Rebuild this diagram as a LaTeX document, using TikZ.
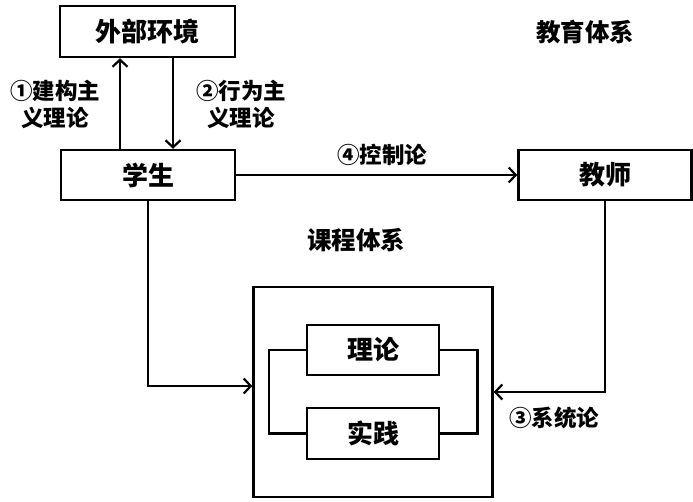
\documentclass[tikz,border=0pt]{standalone}
\usepackage{fontspec}
\setmainfont{Noto Sans CJK SC}
\usetikzlibrary{arrows.meta}
\begin{document}
\begin{tikzpicture}[x=1pt,y=-1pt,
  box/.style={draw,line width=2.5pt,inner sep=0pt,font=\fontsize{26}{27}\selectfont\bfseries},
  lbl/.style={inner sep=0pt,align=center,font=\fontsize{22.5}{27}\selectfont\bfseries},
  ttl/.style={inner sep=0pt,font=\fontsize{24.5}{27}\selectfont\bfseries},
  ln/.style={line width=2.5pt},
  arr/.style={line width=2.5pt,-{Straight Barb[length=7pt,width=15pt,line width=2.2pt]}}]
\useasboundingbox (0,0) rectangle (693,501);
\node[box,minimum width=175pt,minimum height=51pt] (ext) at (147.5,31.5) {外部环境};
\node[box,minimum width=174pt,minimum height=50pt] (stu) at (148,175) {学生};
\node[box,minimum width=173pt,minimum height=50pt] (tea) at (605,175) {教师};
\node[box,minimum width=239pt,minimum height=210pt] (big) at (373,392) {};
\node[box,minimum width=132pt,minimum height=50pt] (th) at (373,350) {理论};
\node[box,minimum width=132pt,minimum height=51pt] (pr) at (373,433.5) {实践};
\node[ttl] (t1) at (585,32) {教育体系};
\node[ttl] (t2) at (356,240) {课程体系};
\node[lbl] (l1) at (55,104) {①建构主\\义理论};
\node[lbl] (l2) at (241,104) {②行为主\\义理论};
\node[lbl] (l4) at (382,155) {④控制论};
\node[lbl] (l3) at (554,418) {③系统论};
\draw[arr] (120,0 |- stu.north) -- (120,0 |- ext.south);
\draw[arr] (173,0 |- ext.south) -- (173,0 |- stu.north);
\draw[arr] (stu.east) -- (tea.west);
\draw[arr] (stu.south) |- (big.west |- 0,386);
\draw[arr] (tea.south) |- (big.east |- 0,392);
\draw[ln] (th.west) -- ++(-37,0) |- (pr.west);
\draw[ln] (th.east) -- ++(37,0) |- (pr.east);
\end{tikzpicture}
\end{document}
